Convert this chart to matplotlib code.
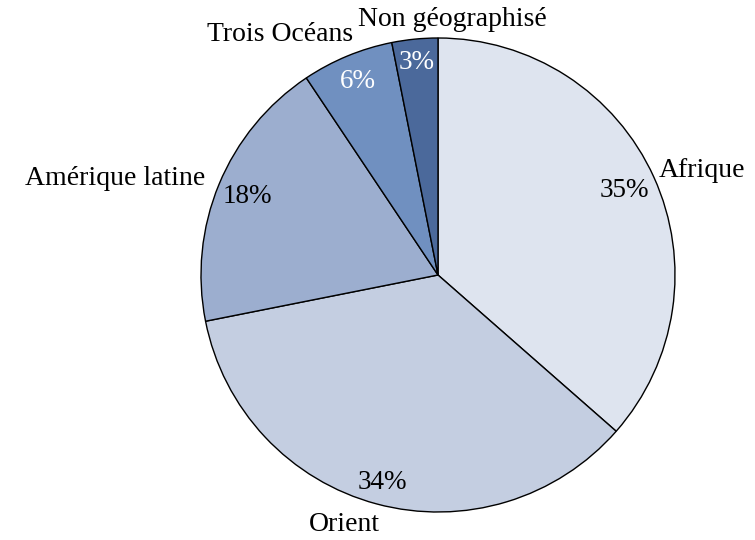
import matplotlib
matplotlib.use("Agg")
import matplotlib.pyplot as plt
import numpy as np

regions = ["Afrique", "Orient", "Amérique latine", "Trois Océans", "Non géographisé"]
shares = [35, 34, 18, 6, 3]
colors = ["#dee4ef", "#c4cee1", "#9caecf", "#7090c0", "#4b699b"]
pct_colors = ["black", "black", "black", "white", "white"]

plt.rcParams['font.family'] = ['Liberation Serif', 'DejaVu Serif']

fig = plt.figure(figsize=(7.55, 5.4), dpi=100)
ax = fig.add_axes([201 / 755, 28 / 540, 474 / 755, 474 / 540])

wedges, _ = ax.pie(shares, colors=colors, startangle=90, counterclock=False,
                   wedgeprops=dict(edgecolor="black", linewidth=1.0))

# placement of the labels around each slice
pct_dist = [0.865, 0.905, 0.87, 0.886, 0.90]
name_dist = [1.032, 1.083, 1.065, 1.075, 1.128]
name_shift = [1.0, 1.9, 0.0, -3.0, 11.8]  # degrees away from the slice middle
name_ha = ["left", "right", "right", "right", "left"]

for i, w in enumerate(wedges):
    mid = (w.theta1 + w.theta2) / 2
    a = np.deg2rad(mid)
    ax.text(pct_dist[i] * np.cos(a), pct_dist[i] * np.sin(a), f"{shares[i]}%",
            fontsize=19.5, ha="center", va="center", color=pct_colors[i])
    b = np.deg2rad(mid + name_shift[i])
    ax.text(name_dist[i] * np.cos(b), name_dist[i] * np.sin(b), regions[i],
            fontsize=20, ha=name_ha[i], va="center", color="black")

ax.set_xlim(-1, 1)
ax.set_ylim(-1, 1)
ax.set_aspect("equal")
ax.axis("off")

fig.savefig("out.png", dpi=100)
